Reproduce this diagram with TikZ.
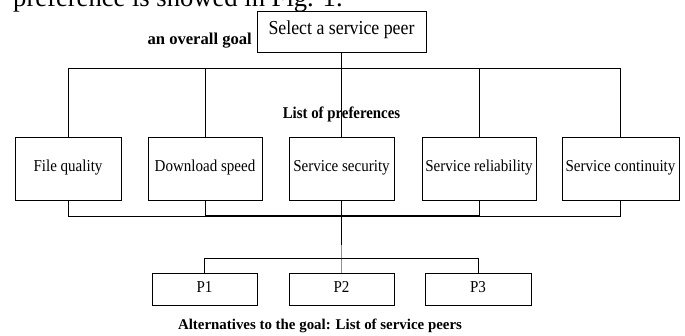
\documentclass[tikz,border=0pt]{standalone}
\usepackage{fontspec}
\setmainfont{Liberation Serif}
\newfontfamily\condfont[FakeStretch=0.9]{Liberation Serif}
\definecolor{linkblue}{RGB}{110,150,210}
\begin{document}
\begin{tikzpicture}[x=1pt,y=-1pt,
  box/.style={draw=black,line width=0.8pt,inner sep=0pt,align=center,text height=0.66em,text depth=0pt,font=\condfont\fontsize{16.7}{18}\selectfont},
  thin/.style={line width=0.8pt},
  thick/.style={line width=1.8pt},
  boldlbl/.style={inner sep=0pt,text height=0.66em,text depth=0pt}]
\useasboundingbox (0,0) rectangle (685,336);
\begin{scope}
\clip (0,0) rectangle (685,336);
\node[inner sep=0pt,anchor=base west,font=\fontsize{26.6}{30}\selectfont] (cut) at (13,6.5) {preference is showed in Fig. 1.};
\end{scope}
% goal
\node[box,minimum width=169pt,minimum height=41pt,font=\condfont\fontsize{19.8}{22}\selectfont] (goal) at (341.5,31.5) {Select a service peer};
\node[boldlbl,anchor=east,font=\bfseries\fontsize{16.6}{18}\selectfont] (goallbl) at (252,41) {an overall goal};
% preferences
\node[box,minimum width=106pt,minimum height=63pt] (p1) at (68,168.5) {File quality};
\node[box,minimum width=114pt,minimum height=63pt] (p2) at (205,168.5) {Download speed};
\node[box,minimum width=105pt,minimum height=63pt] (p3) at (341.5,168.5) {Service security};
\node[box,minimum width=114pt,minimum height=63pt] (p4) at (479,168.5) {Service reliability};
\node[box,minimum width=117pt,minimum height=63pt] (p5) at (620.5,168.5) {Service continuity};
\node[boldlbl,font=\condfont\bfseries\fontsize{16.5}{18}\selectfont] (preflbl) at (341.5,115.5) {List of preferences};
% alternatives
\node[box,minimum width=105pt,minimum height=32pt] (a1) at (204.5,289) {P1};
\node[box,minimum width=105pt,minimum height=32pt] (a2) at (341.5,289) {P2};
\node[box,minimum width=106pt,minimum height=32pt] (a3) at (478,289) {P3};
\node[boldlbl,font=\bfseries\fontsize{14.9}{16}\selectfont] (altlbl) at (320,326.7) {Alternatives to the goal: List of service peers};
% coordinates
\coordinate (top) at (341.5,68);
\coordinate (tl) at (68,68);
\coordinate (tr) at (620.5,68);
\coordinate (bot) at (341.5,216);
\coordinate (bl) at (68,216);
\coordinate (br) at (620.5,216);
\coordinate (bml) at (205,216);
\coordinate (bmr) at (479,216);
\coordinate (mid) at (341.5,245);
\coordinate (al) at (204.5,258);
\coordinate (ar) at (478,258);
% top connectors
\draw[thick] (goal.south) -- (top);
\draw[thin] (tl) -- (tr);
\foreach \n in {p1,p2,p3,p4,p5} \draw[thin] (\n.north) -- (\n.north |- top);
% bottom connectors
\foreach \n in {p1,p2,p3,p4,p5} \draw[thin] (\n.south) -- (\n.south |- bot);
\draw[thin] (bl) -- (br);
\draw[line width=1.3pt] (bml) -- (bmr);
\draw[thick] (bot) -- (mid);
\draw[linkblue,line width=0.8pt] (mid) -- (a2.north);
\draw[thin] (a1.north) -- (al) -- (ar) -- (a3.north);
\end{tikzpicture}
\end{document}
